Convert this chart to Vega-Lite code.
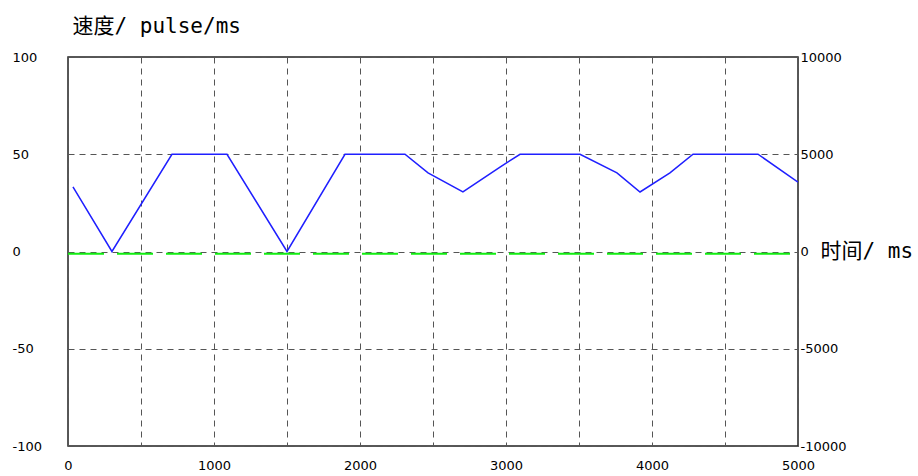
{
  "$schema": "https://vega.github.io/schema/vega-lite/v6.json",
  "autosize": "none",
  "width": 730,
  "height": 389,
  "padding": {"left": 68, "top": 57, "right": 120, "bottom": 30},
  "background": "white",
  "config": {
    "view": {"stroke": "#222", "strokeWidth": 1.5},
    "axis": {
      "labelFont": "DejaVu Sans",
      "labelFontSize": 13,
      "labelFontWeight": "normal",
      "labelColor": "#000",
      "labelExpr": "replace(datum.label, '−', '-')",
      "ticks": false,
      "tickSize": 0,
      "domain": false,
      "gridColor": "#555",
      "gridDash": [6, 5],
      "gridWidth": 1,
      "gridOpacity": 1
    }
  },
  "datasets": {
    "speed": [
      {"t": 34, "v": 33.2},
      {"t": 301, "v": 0},
      {"t": 712, "v": 50},
      {"t": 1089, "v": 50},
      {"t": 1500, "v": 0},
      {"t": 1897, "v": 50},
      {"t": 2308, "v": 50},
      {"t": 2466, "v": 40.4},
      {"t": 2705, "v": 30.6},
      {"t": 2959, "v": 43.4},
      {"t": 3096, "v": 50},
      {"t": 3507, "v": 50},
      {"t": 3760, "v": 40.4},
      {"t": 3918, "v": 30.6},
      {"t": 4123, "v": 40.4},
      {"t": 4281, "v": 50},
      {"t": 4726, "v": 50},
      {"t": 5000, "v": 35.7}
    ],
    "pos": [
      {"t": 0, "p": -120},
      {"t": 5000, "p": -120}
    ]
  },
  "layer": [
    {
      "data": {"name": "pos"},
      "mark": {"type": "line", "color": "#11ee11", "strokeWidth": 2, "strokeDash": [36, 13]},
      "encoding": {
        "x": {"field": "t", "type": "quantitative"},
        "y": {
          "field": "p", "type": "quantitative",
          "scale": {"domain": [-10000, 10000], "nice": false},
          "axis": {
            "orient": "right",
            "values": [-10000, -5000, 0, 5000, 10000],
            "format": "d",
            "grid": false,
            "labelAlign": "left",
            "labelPadding": 2,
            "title": null
          }
        }
      }
    },
    {
      "data": {"name": "speed"},
      "mark": {"type": "line", "color": "#1f1fff", "strokeWidth": 1.5, "clip": true},
      "encoding": {
        "x": {
          "field": "t", "type": "quantitative",
          "scale": {"domain": [0, 5000], "nice": false},
          "axis": {
            "values": [0, 500, 1000, 1500, 2000, 2500, 3000, 3500, 4000, 4500, 5000],
            "labelExpr": "datum.value % 1000 === 0 ? replace(datum.label, '−', '-') : ''",
            "format": "d",
            "grid": true,
            "labelPadding": 13,
            "labelFlush": false,
            "title": "时间/ ms",
            "titleFont": "'DejaVu Sans Mono', 'Noto Sans CJK SC'",
            "titleFontSize": 21,
            "titleFontWeight": "normal",
            "titleColor": "#000",
            "titleX": 752,
            "titleY": -195,
            "titleAlign": "left",
            "titleBaseline": "middle",
            "titleAngle": 0
          }
        },
        "y": {
          "field": "v", "type": "quantitative",
          "scale": {"domain": [-100, 100], "nice": false},
          "axis": {
            "values": [-100, -50, 0, 50, 100],
            "grid": true,
            "labelAlign": "left",
            "labelPadding": 56,
            "title": "速度/ pulse/ms",
            "titleFont": "'DejaVu Sans Mono', 'Noto Sans CJK SC'",
            "titleFontSize": 21,
            "titleFontWeight": "normal",
            "titleColor": "#000",
            "titleAngle": 0,
            "titleX": 4,
            "titleY": -31,
            "titleAlign": "left",
            "titleBaseline": "middle"
          }
        }
      }
    }
  ],
  "resolve": {"scale": {"y": "independent"}}
}
